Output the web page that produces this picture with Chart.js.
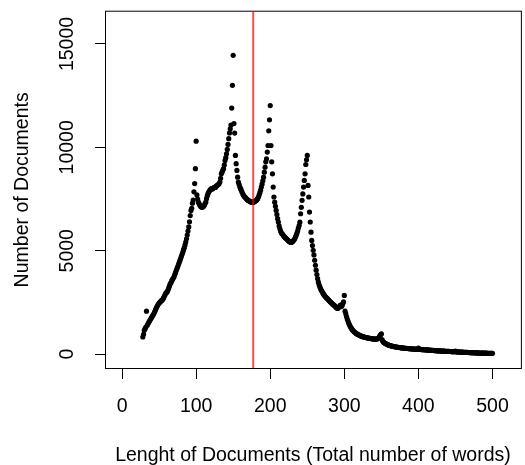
<!DOCTYPE html>
<html>
<head>
<meta charset="utf-8">
<script src="https://cdn.jsdelivr.net/npm/chart.js@4/dist/chart.umd.min.js"></script>
<style>
  html, body { margin: 0; padding: 0; background: #fff; overflow: hidden; }
  #wrap { width: 525px; height: 465px; }
</style>
</head>
<body>
<div id="wrap"><canvas id="grafico" width="525" height="465"></canvas></div>
<script>
// largo del primer documento (palabras); cada valor siguiente es +1 palabra
const firstLength = 28;
const docCounts = [
  830, 960,
  1150, 1230, 1300, 2080, 1400, 1470, 1540, 1600, 1660, 1720,
  1780, 1840, 1900, 1960, 2050, 2130, 2210, 2290, 2360, 2420,
  2470, 2510, 2550, 2580, 2610, 2650, 2720, 2800, 2870, 2940,
  2980, 3020, 3100, 3200, 3300, 3400, 3450, 3540, 3610, 3670,
  3730, 3830, 3930, 4030, 4130, 4220, 4320, 4420, 4520, 4620,
  4720, 4830, 4930, 5050, 5150, 5280, 5420, 5580, 5760, 5950,
  6150, 6400, 6700, 6950, 7050, 7300, 7450, 7850, 8250, 8970,
  10300, 7700, 7500, 7350, 7280, 7200, 7150, 7110, 7100, 7120,
  7150, 7200, 7280, 7350, 7520, 7650, 7760, 7840, 7900, 7950,
  7980, 8000, 7990, 8030, 8050, 8080, 8060, 8120, 8150, 8180,
  8200, 8250, 8320, 8500, 8720, 8800, 8900, 8970, 9150, 9370,
  9500, 9690, 9900, 10140, 10420, 10700, 10900, 11080, 11900, 13000,
  14450, 11150, 10690, 9610, 9210, 8885, 8560, 8320, 8200, 8080,
  8000, 7920, 7830, 7750, 7680, 7620, 7590, 7550, 7510, 7470,
  7440, 7420, 7400, 7380, 7360, 7350, 7340, 7350, 7360, 7380,
  7400, 7430, 7470, 7520, 7600, 7700, 7810, 7930, 8080, 8220,
  8380, 8560, 8800, 9040, 9300, 9450, 9770, 10090, 10800, 11330,
  12020, 10090, 9300, 8720, 8080, 7600, 7350, 7150, 6950, 6750,
  6550, 6390, 6200, 6060, 5950, 5870, 5820, 5780, 5720, 5680,
  5640, 5600, 5580, 5540, 5500, 5470, 5440, 5420, 5400, 5420,
  5440, 5480, 5520, 5580, 5660, 5740, 5850, 5960, 6100, 6220,
  6380, 6790, 7100, 7440, 7750, 8080, 8400, 8720, 9170, 9400,
  9610, 8160, 7600, 6870, 6390, 5900, 5500, 5250, 5020, 4800,
  4540, 4300, 4060, 3850, 3650, 3480, 3350, 3250, 3160, 3090,
  3030, 2960, 2900, 2850, 2800, 2760, 2720, 2690, 2650, 2610,
  2570, 2530, 2500, 2460, 2430, 2400, 2370, 2340, 2300, 2260,
  2230, 2210, 2240, 2290, 2340, 2370, 2300, 2350, 2450, 2530,
  2840, 2080, 1950, 1820, 1700, 1600, 1500, 1420, 1340, 1280,
  1220, 1170, 1130, 1090, 1060, 1030, 1000, 980, 960, 940,
  920, 900, 885, 870, 858, 846, 835, 825, 815, 805,
  795, 787, 780, 773, 766, 760, 754, 748, 742, 737,
  732, 728, 726, 728, 735, 750, 780, 830, 890, 950,
  980, 700, 620, 580, 550, 525, 505, 485, 465, 450,
  435, 422, 410, 400, 390, 381, 372, 365, 358, 352,
  346, 340, 334, 328, 322, 317, 312, 307, 302, 298,
  294, 290, 286, 282, 278, 274, 270, 267, 264, 261,
  258, 255, 252, 249, 246, 243, 241, 239, 237, 236,
  290, 232, 229, 226, 223, 220, 217, 214, 212, 210,
  208, 205, 202, 199, 196, 193, 190, 187, 184, 181,
  178, 175, 172, 170, 168, 165, 162, 160, 157, 155,
  153, 151, 149, 147, 145, 143, 141, 139, 137, 135,
  133, 131, 129, 127, 125, 123, 121, 119, 117, 115,
  150, 112, 110, 108, 106, 104, 102, 100, 98, 96,
  94, 92, 90, 88, 86, 84, 82, 80, 78, 76,
  75, 73, 71, 70, 68, 66, 65, 63, 62, 60,
  59, 58, 56, 55, 54, 53, 52, 50, 49, 48,
  47, 46, 45, 44, 43, 42, 41, 40, 40, 39,
  38
];
const xTicks = [0, 100, 200, 300, 400, 500];
const yTicks = [0, 5000, 10000, 15000];
const meanLength = 177;   // linea roja vertical

const xRange = [-21.7, 537];
const yRange = [-670, 16560];

const fuente = { family: '"Liberation Sans", Arial, sans-serif', size: 19.5 };

// caja alrededor del area de dibujo, como el box() de R
const cajaPlugin = {
    id: 'caja',
    afterDraw(chart) {
        const { ctx, chartArea: a } = chart;
        ctx.save();
        ctx.strokeStyle = '#000';
        ctx.lineWidth = 1;
        ctx.strokeRect(a.left - 0.5, a.top - 0.5, a.right - a.left + 2, a.bottom - a.top + 1);
        ctx.restore();
    }
};

const puntos = docCounts.map((v, i) => ({ x: firstLength + i, y: v }));

new Chart(document.getElementById('grafico'), {
    type: 'scatter',
    data: {
        datasets: [
            {
                type: 'line',
                data: [{ x: meanLength, y: yRange[0] }, { x: meanLength, y: yRange[1] }],
                borderColor: 'rgba(255, 0, 0, 0.7)',
                borderWidth: 2,
                pointRadius: 0,
                order: 0
            },
            {
                data: puntos,
                backgroundColor: '#000',
                borderWidth: 0,
                pointRadius: 2.6,
                order: 1
            }
        ]
    },
    plugins: [cajaPlugin],
    options: {
        responsive: false,
        animation: false,
        events: [],
        layout: { padding: { top: 11, right: 0, left: 0, bottom: 0 } },
        plugins: { legend: { display: false }, tooltip: { enabled: false } },
        scales: {
            x: {
                type: 'linear',
                min: xRange[0],
                max: xRange[1],
                afterBuildTicks: s => { s.ticks = xTicks.map(v => ({ value: v })); },
                afterFit: s => { s.height = 97; },
                grid: { drawOnChartArea: false, tickLength: 11, color: '#000', lineWidth: 1 },
                border: { display: false },
                ticks: { color: '#000', font: fuente, padding: 16, maxRotation: 0, callback: v => String(v) },
                title: {
                    display: true,
                    text: 'Lenght of Documents (Total number of words)',
                    color: '#000',
                    font: { ...fuente, lineHeight: 1 },
                    padding: { top: 0, bottom: 0 }
                }
            },
            y: {
                type: 'linear',
                min: yRange[0],
                max: yRange[1],
                afterBuildTicks: s => { s.ticks = yTicks.map(v => ({ value: v })); },
                afterFit: s => { s.width = 106; },
                grid: { drawOnChartArea: false, tickLength: 11, color: '#000', lineWidth: 1 },
                border: { display: false },
                ticks: {
                    color: '#000', font: fuente, padding: 0,
                    minRotation: 90, maxRotation: 90, crossAlign: 'center',
                    callback: v => String(v)
                },
                title: {
                    display: true,
                    text: 'Number of Documents',
                    color: '#000',
                    font: { ...fuente, lineHeight: 1 },
                    padding: { top: 13, bottom: 0 }
                }
            }
        }
    }
});
</script>
</body>
</html>
